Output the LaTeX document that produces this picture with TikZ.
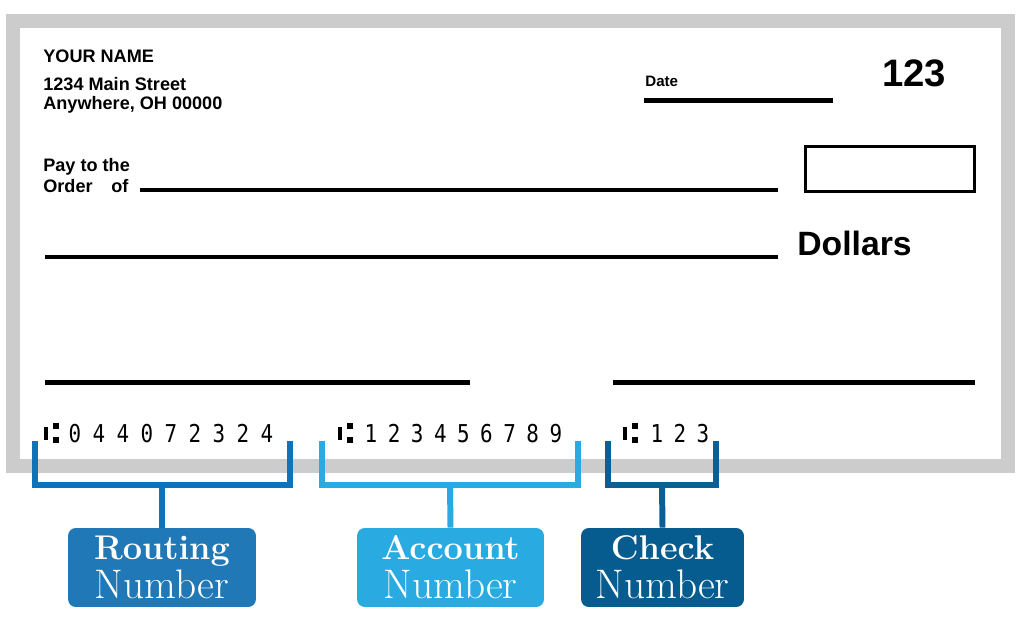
\documentclass[tikz,border=0pt]{standalone}
\usepackage{fontspec}
\usetikzlibrary{positioning}
\newfontfamily\chkfont{Liberation Sans}
\newfontfamily\micrfont[FakeStretch=0.85]{DejaVu Sans Mono}
\definecolor{FrameGray}{HTML}{CCCCCC}
\definecolor{RoutBlue}{HTML}{0F73BA}
\definecolor{RoutFill}{HTML}{2078B6}
\definecolor{AcctBlue}{HTML}{29ABE2}
\definecolor{ChkBlue}{HTML}{0A5F96}
\definecolor{ChkFill}{HTML}{065C8F}

\begin{document}
\begin{tikzpicture}[x=0.02cm, y=-0.02cm]
	\tikzstyle{Txt}		= [inner sep=0pt, anchor=base west, font=\chkfont\bfseries\fontsize{10.3}{12}\selectfont]
	\tikzstyle{Rule}	= [line width=2.4pt]
	\tikzstyle{Digit}	= [inner sep=0pt, anchor=base, font=\micrfont\fontsize{14}{14}\selectfont]
	\tikzstyle{Bracket}	= [line width=3.4pt]
	\tikzstyle{Tag}		= [rounded corners=4.5pt, minimum height=1.58cm, inner sep=0pt, text=white, align=center, font=\fontsize{23.5}{22}\selectfont]

	\useasboundingbox[fill=white] (0,0) rectangle (1024,617);

	% cheque frame
	\draw[FrameGray, line width=7.9pt] (13,21) rectangle (1008,466);

	% header
	\node[Txt] (name) at (43,63) {YOUR NAME};
	\node[Txt] (street) at (43,91) {1234 Main Street};
	\node[Txt] (town) at (43,110) {Anywhere, OH 00000};
	\node[Txt, font=\chkfont\bfseries\fontsize{8.6}{10}\selectfont] (date) at (645,87) {Date};
	\node[Txt, font=\chkfont\bfseries\fontsize{21.8}{24}\selectfont] (num) at (882,87) {123};
	\draw[Rule] (644,100.5) -- (833,100.5);

	% payee and amount
	\node[Txt] (pay) at (43,172) {Pay to the};
	\node[Txt] (order) at (43,193) {Order};
	\node[Txt] (of) at (111,193) {of};
	\draw[Rule] (140,190) -- (778,190);
	\draw[line width=2.1pt] (805.5,146.5) rectangle (974.5,191.5);
	\draw[Rule] (45,257) -- (778,257);
	\node[Txt, font=\chkfont\bfseries\fontsize{19.2}{22}\selectfont] (dollars) at (797,256) {Dollars};

	% memo and signature
	\draw[Rule] (45,382.5) -- (470,382.5);
	\draw[Rule] (613,382.5) -- (975,382.5);

	% MICR line
	\foreach \sx in {44, 338, 623} {
		\fill (\sx,427) rectangle (\sx+4,440);
		\fill (\sx+9,423) rectangle (\sx+15,429);
		\fill (\sx+9,437) rectangle (\sx+15,443);
	}
	\foreach \d [count=\i from 0] in {0,4,4,0,7,2,3,2,4}
		\node[Digit] (r\i) at (75+24*\i,443) {\d};
	\foreach \d [count=\i from 0] in {1,2,3,4,5,6,7,8,9}
		\node[Digit] (a\i) at (371+23.1*\i,443) {\d};
	\foreach \d [count=\i from 0] in {1,2,3}
		\node[Digit] (c\i) at (657+23*\i,443) {\d};

	% labels
	\node[Tag, fill=RoutFill, minimum width=3.76cm] (rbox) at (162,567.5)
		{{\fontsize{19.5}{22}\selectfont\bfseries Routing}\\Number};
	\node[Tag, fill=AcctBlue, minimum width=3.74cm] (abox) at (450.5,567.5)
		{{\fontsize{19.5}{22}\selectfont\bfseries Account}\\Number};
	\node[Tag, fill=ChkFill, minimum width=3.26cm] (cbox) at (662.5,567.5)
		{{\fontsize{19.5}{22}\selectfont\bfseries Check}\\Number};

	% brackets
	\coordinate (rstem) at (162,485);
	\coordinate (astem) at (450,485);
	\coordinate (cstem) at (662,485);
	\draw[Bracket, RoutBlue] (35,441) -- (35,485) -- (290,485) -- (290,441);
	\draw[Bracket, AcctBlue] (322,441) -- (322,485) -- (578,485) -- (578,441);
	\draw[Bracket, ChkBlue] (608,441) -- (608,485) -- (716,485) -- (716,441);
	\draw[Bracket, RoutBlue] (rstem) -- (rbox.north);
	\draw[Bracket, AcctBlue] (astem) -- (abox.north);
	\draw[Bracket, ChkBlue] (cstem) -- (cbox.north);
\end{tikzpicture}
\end{document}
